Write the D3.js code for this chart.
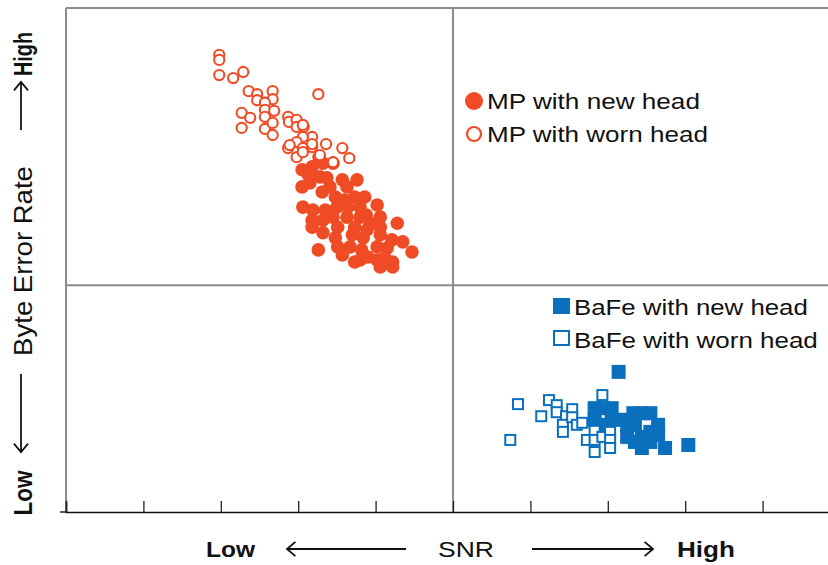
<!DOCTYPE html>
<html>
<head>
<meta charset="utf-8">
<script src="https://cdn.jsdelivr.net/npm/d3@7"></script>
<style>
  body { margin: 0; background: #fff; }
  text { font-family: "Liberation Sans", Arial, sans-serif; }
</style>
</head>
<body>
<div id="chart"></div>
<script>
// SNR (x) and byte error rate (y), both in relative units 0-100
var mpNewX = [32.7,30.5,31.8,33.2,34.5,32.8,31.5,30.5,35.7,37.6,34.1,36.3,34.8,33.1,37.3,38.6,30.6,31.9,33.5,35.0,36.4,38.0,40.2,31.8,33.2,34.5,36.3,38.0,40.6,42.8,39.3,31.8,35.1,37.3,38.9,40.6,33.2,34.8,37.0,38.4,40.6,42.1,43.5,44.7,32.6,35.1,36.7,38.2,40.2,41.5,35.7,38.0,40.2,42.2,40.6,42.2,39.0,31.3,33.7,36.0,38.8,41.2,37.3];
var mpNewY = [70.4,67.9,68.5,69.2,69.2,66.5,65.3,64.5,65.9,65.9,64.5,64.5,62.5,63.5,62.5,62.5,60.5,59.9,59.9,60.5,60.5,60.5,60.9,57.9,57.9,58.5,58.5,58.5,58.5,57.3,57.3,56.5,56.5,56.5,56.0,56.5,55.4,54.4,55.0,54.4,55.0,54.0,53.6,51.6,52.0,52.6,52.6,52.0,52.6,52.4,51.0,50.0,50.0,49.6,48.6,48.6,50.6,66.9,66.3,61.9,58.9,50.4,49.6];

var mpWornX = [19.8,19.8,19.8,21.6,22.9,23.6,24.7,24.7,26.7,26.7,25.7,25.7,26.9,22.7,23.8,22.7,25.7,25.7,26.7,26.7,32.6,28.7,28.8,29.8,29.8,30.7,31.8,30.6,29.8,28.7,30.6,33.6,31.8,35.7,36.6,29.8,30.6,28.9,31.8,30.6,34.5,32.8];
var mpWornY = [90.7,89.7,86.7,86.1,87.3,83.5,82.9,81.7,83.5,81.9,81.2,79.8,79.6,79.2,78.2,76.2,78.4,76.0,77.2,74.8,82.9,78.4,77.4,77.8,76.4,76.4,74.4,74.4,73.4,72.2,72.2,73.0,72.4,72.2,70.2,70.4,76.8,72.8,73.0,71.4,69.4,70.8];

var bafeNewX = [71.4,68.3,69.4,70.5,68.3,70.5,71.6,69.4,72.5,73.3,74.4,75.5,73.5,76.5,72.5,74.4,75.5,76.5,74.4,77.4,80.4,73.5,75.5];
var bafeNewY = [27.8,20.6,20.6,20.6,18.3,18.3,18.3,17.3,17.3,19.6,19.6,19.6,17.3,17.3,14.9,14.9,15.9,15.3,12.7,12.7,13.3,13.9,13.9];

var bafeWornX = [58.4,57.4,61.4,62.4,63.4,63.4,64.6,64.2,64.2,65.4,65.4,66.0,66.7,67.3,68.3,68.3,68.3,69.3,69.3,70.3,70.3,70.3];
var bafeWornY = [21.4,14.3,19.0,22.2,21.2,19.8,19.0,17.3,15.9,20.4,18.8,17.3,17.7,14.3,16.1,14.3,11.9,23.2,14.9,15.9,14.3,12.7];

var xTicks = [0,10,20,30,40,50,60,70,80,90,100];
var legendMP = ["MP with new head", "MP with worn head"];
var legendBaFe = ["BaFe with new head", "BaFe with worn head"];

var red = "#ef4b24", blue = "#0a70bd", grid = "#8c8c8c";

var width = 828, height = 565;
var svg = d3.select("#chart").append("svg")
    .attr("width", width).attr("height", height);

svg.append("rect").attr("width", width).attr("height", height).attr("fill", "#fff");

var x = d3.scaleLinear().domain([0, 100]).range([66, 840]);
var y = d3.scaleLinear().domain([0, 100]).range([512, 8]);

// frame and quadrant lines
svg.append("line").attr("x1", x(0)).attr("x2", width).attr("y1", y(100)).attr("y2", y(100))
    .attr("stroke", grid).attr("stroke-width", 2);
svg.append("line").attr("x1", x(0)).attr("x2", x(0)).attr("y1", y(100)).attr("y2", y(0))
    .attr("stroke", grid).attr("stroke-width", 2);
svg.append("line").attr("x1", x(50)).attr("x2", x(50)).attr("y1", y(100)).attr("y2", y(0))
    .attr("stroke", grid).attr("stroke-width", 2);
svg.append("line").attr("x1", x(0)).attr("x2", width).attr("y1", y(45)).attr("y2", y(45))
    .attr("stroke", grid).attr("stroke-width", 2);
svg.append("line").attr("x1", x(0) - 6).attr("x2", x(0)).attr("y1", y(0)).attr("y2", y(0))
    .attr("stroke", "#222").attr("stroke-width", 1.5);

// x axis
var xAxis = svg.append("g")
    .attr("transform", "translate(0," + y(0) + ")")
    .call(d3.axisBottom(x).tickValues(xTicks).tickSize(-11).tickFormat(""));
xAxis.select(".domain").attr("stroke", "#111").attr("stroke-width", 1.6);
xAxis.selectAll(".tick line").attr("stroke", "#222").attr("stroke-width", 1.3);

// markers
var mpNew = d3.zip(mpNewX, mpNewY);
var mpWorn = d3.zip(mpWornX, mpWornY);
var bafeNew = d3.zip(bafeNewX, bafeNewY);
var bafeWorn = d3.zip(bafeWornX, bafeWornY);

svg.append("g").selectAll("circle").data(mpNew).enter().append("circle")
    .attr("cx", function(d) { return x(d[0]); })
    .attr("cy", function(d) { return y(d[1]); })
    .attr("r", 6.8)
    .attr("fill", red);

svg.append("g").selectAll("circle").data(mpWorn).enter().append("circle")
    .attr("cx", function(d) { return x(d[0]); })
    .attr("cy", function(d) { return y(d[1]); })
    .attr("r", 5.1)
    .attr("fill", "#fff")
    .attr("stroke", red)
    .attr("stroke-width", 2.1);

svg.append("g").selectAll("rect").data(bafeNew).enter().append("rect")
    .attr("x", function(d) { return x(d[0]) - 7; })
    .attr("y", function(d) { return y(d[1]) - 7; })
    .attr("width", 14).attr("height", 14)
    .attr("fill", blue);

svg.append("g").selectAll("rect").data(bafeWorn).enter().append("rect")
    .attr("x", function(d) { return x(d[0]) - 5; })
    .attr("y", function(d) { return y(d[1]) - 5; })
    .attr("width", 10).attr("height", 10)
    .attr("fill", "#fff")
    .attr("stroke", blue)
    .attr("stroke-width", 2);

// text helper: the source picture is squeezed vertically, so glyphs are
// stretched along the text direction to the measured length
function label(g, txt, tx, ty, len, opts) {
  opts = opts || {};
  var t = g.append("text")
    .attr("font-size", opts.size || 22)
    .attr("font-weight", opts.bold ? "bold" : "normal")
    .attr("fill", "#111")
    .attr("text-anchor", opts.rotate ? "middle" : "start")
    .text(txt);
  var s = len / t.node().getComputedTextLength();
  t.attr("transform", "translate(" + tx + "," + ty + ")" +
         (opts.rotate ? " rotate(-90)" : "") + " scale(" + s + ",1)");
  return t;
}

// legends
var lg1 = svg.append("g");
lg1.append("circle").attr("cx", 474).attr("cy", 101).attr("r", 9).attr("fill", red);
lg1.append("circle").attr("cx", 474).attr("cy", 134).attr("r", 7).attr("fill", "#fff")
    .attr("stroke", red).attr("stroke-width", 2.2);
label(lg1, legendMP[0], 487, 109, 213);
label(lg1, legendMP[1], 487, 142, 221);

var lg2 = svg.append("g");
lg2.append("rect").attr("x", 553).attr("y", 298).attr("width", 17).attr("height", 16).attr("fill", blue);
lg2.append("rect").attr("x", 554).attr("y", 331).attr("width", 15).attr("height", 14).attr("fill", "#fff")
    .attr("stroke", blue).attr("stroke-width", 2);
label(lg2, legendBaFe[0], 574, 315, 234);
label(lg2, legendBaFe[1], 574, 348, 244);

// axis titles with arrows
function arrowLine(g, x1, y1, x2, y2) {
  g.append("line").attr("x1", x1).attr("y1", y1).attr("x2", x2).attr("y2", y2)
    .attr("stroke", "#111").attr("stroke-width", 1.8);
  var a = Math.atan2(y2 - y1, x2 - x1), L = 11;
  var p = [[x2 - L * Math.cos(a - 0.7), y2 - L * Math.sin(a - 0.7)], [x2, y2],
           [x2 - L * Math.cos(a + 0.7), y2 - L * Math.sin(a + 0.7)]];
  g.append("path").attr("d", d3.line()(p)).attr("fill", "none")
    .attr("stroke", "#111").attr("stroke-width", 1.8);
}

var xt = svg.append("g");
label(xt, "Low", 206, 557, 49, {bold: true});
label(xt, "SNR", 438, 557, 56);
label(xt, "High", 677, 557, 58, {bold: true});
arrowLine(xt, 406, 549, 287, 549);
arrowLine(xt, 532, 549, 653, 549);

var yt = svg.append("g");
label(yt, "High", 32, 54, 44, {bold: true, rotate: true, size: 25});
label(yt, "Byte Error Rate", 32, 261, 190, {rotate: true, size: 25});
label(yt, "Low", 32, 493, 45, {bold: true, rotate: true, size: 25});
arrowLine(yt, 21, 130, 21, 82);
arrowLine(yt, 21, 374, 21, 452);
</script>
</body>
</html>
